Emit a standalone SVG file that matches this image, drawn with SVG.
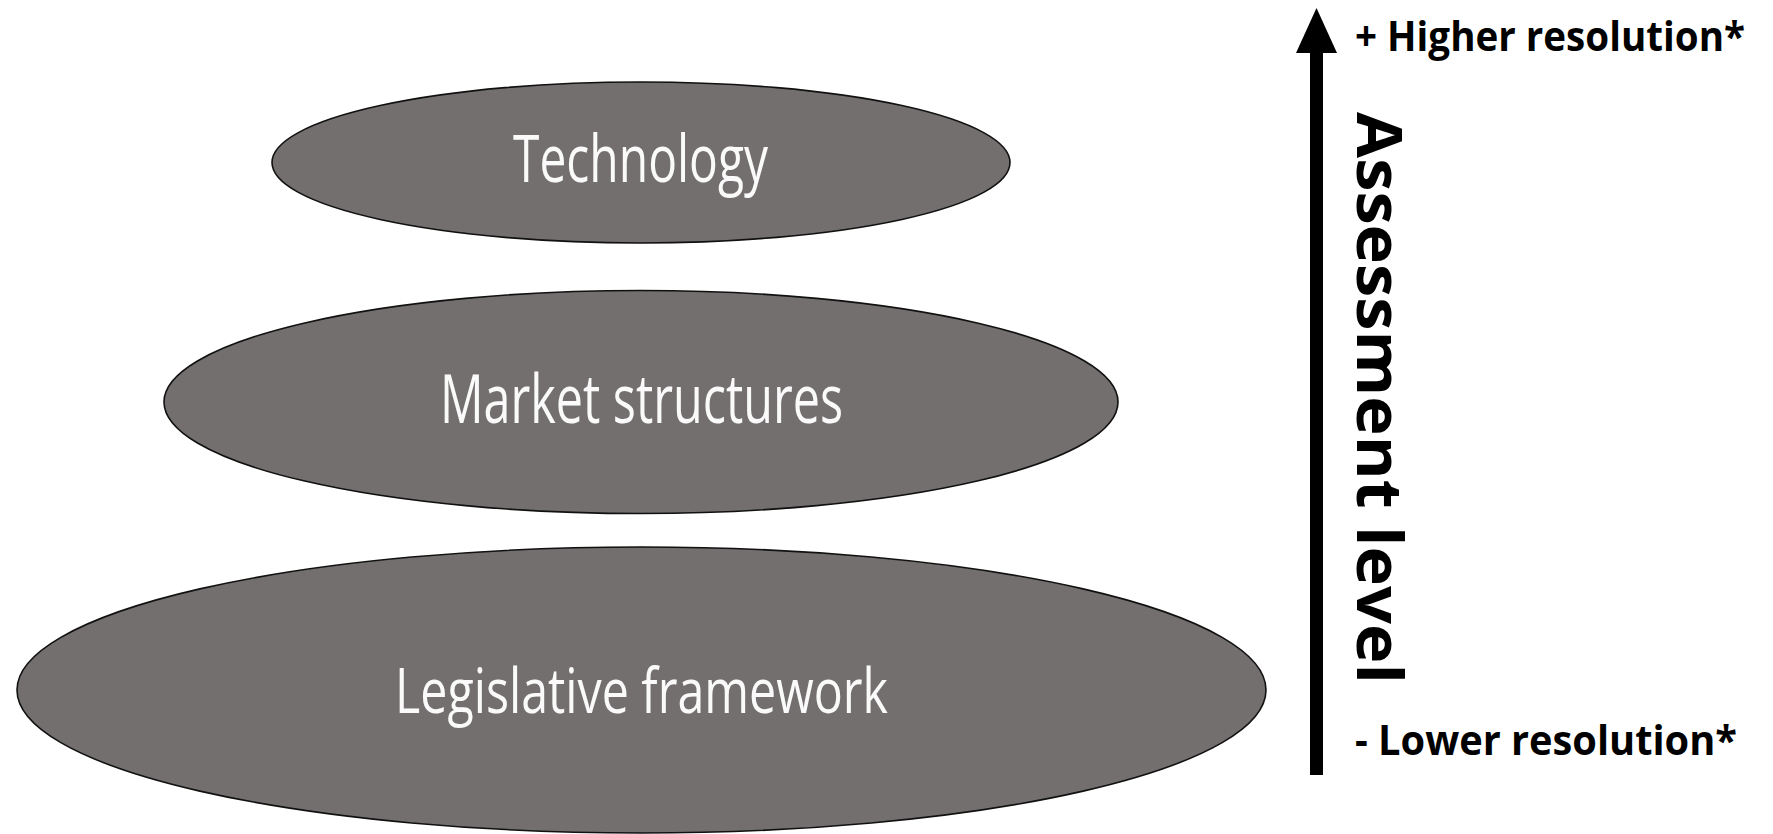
<svg xmlns="http://www.w3.org/2000/svg" width="1773" height="834" viewBox="0 0 1773 834">
  <style>
    .node ellipse { fill: #736f6e; stroke: #111; stroke-width: 1.6; }
    .node text { fill: #fafafa; font-family: "Open Sans", "Noto Sans", sans-serif; text-anchor: middle; }
    .lbl { fill: #000; font-family: "Open Sans", "Noto Sans", sans-serif; font-weight: bold; }
  </style>
  <rect x="0" y="0" width="1773" height="834" fill="#ffffff"/>
  <g id="node-technology" class="node">
    <ellipse cx="641" cy="162.5" rx="369" ry="80.5"/>
    <text x="640.5" y="182" font-size="66" textLength="255" lengthAdjust="spacingAndGlyphs">Technology</text>
  </g>
  <g id="node-market" class="node">
    <ellipse cx="641" cy="402" rx="477" ry="111.5"/>
    <text x="641.5" y="423" font-size="67" textLength="403" lengthAdjust="spacingAndGlyphs">Market structures</text>
  </g>
  <g id="node-legislative" class="node">
    <ellipse cx="641.5" cy="690" rx="624.5" ry="143"/>
    <text x="641.5" y="713" font-size="62" textLength="493" lengthAdjust="spacingAndGlyphs">Legislative framework</text>
  </g>
  <g id="connectors">
    <rect x="1310" y="50" width="13" height="725" fill="#000"/>
    <polygon points="1316.5,8 1296,53 1337,53" fill="#000"/>
  </g>
  <g id="axis-labels">
    <text class="lbl" x="1355" y="51" font-size="41" textLength="390" lengthAdjust="spacingAndGlyphs">+ Higher resolution*</text>
    <text class="lbl" x="1355" y="755" font-size="41" textLength="382" lengthAdjust="spacingAndGlyphs">- Lower resolution*</text>
    <text class="lbl" transform="translate(1357,112) rotate(90)" x="0" y="0" font-size="62" textLength="572" lengthAdjust="spacingAndGlyphs">Assessment level</text>
  </g>
</svg>
